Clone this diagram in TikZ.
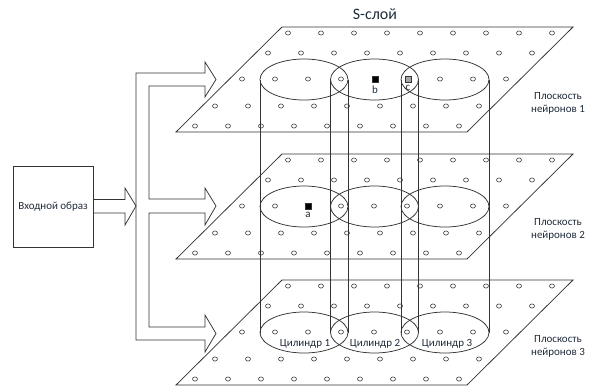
\documentclass[tikz,border=0pt]{standalone}
\usepackage{fontspec}
\setmainfont{Carlito}
\definecolor{ink}{HTML}{333333}
\definecolor{txt}{HTML}{1F2B3A}
\definecolor{cgray}{HTML}{A6A6A6}
\begin{document}
\begin{tikzpicture}[x=1bp,y=-1bp,
  line/.style={draw=ink,line width=0.75bp},
  neuron/.style={draw=ink,line width=0.6bp,fill=white},
  lbl/.style={font=\fontsize{11}{13}\selectfont,text=txt,inner sep=0pt,align=center},
  cell/.style={draw=ink,line width=0.5bp,minimum size=6bp,inner sep=0pt},
  inbox/.style={line,minimum width=80bp,minimum height=81bp,inner sep=0pt,
    font=\fontsize{11}{13}\selectfont,text=txt}]
\useasboundingbox (0,0) rectangle (590,387);

% three neuron planes: parallelograms with a grid of neurons
\foreach \t/\pl in {27/1,154/2,280/3}{
  \draw[line] (282,\t) -- (573,\t) -- (467,\t+105) -- (176,\t+105) -- cycle;
  \foreach \dy [count=\r] in {6,26,52,79,99}{
    \foreach \k in {0,...,8}{
      \pgfmathtruncatemacro{\skip}{
        (\pl==1 && \r==3 && (\k==4 || \k==5)) || (\pl==2 && \r==3 && \k==2)}
      \ifnum\skip=0
        \draw[neuron] (294-\dy+33*\k,\t+\dy) circle[x radius=2.5bp,y radius=2.1bp];
      \fi
    }
  }
  % sections of the three cylinders
  \foreach \cx in {304,374.5,445}{
    \draw[line] (\cx,\t+52.5) ellipse[x radius=44,y radius=20.5];
  }
}

% cylinder walls
\foreach \cx in {304,374.5,445}{
  \draw[line] (\cx-44,79.5) -- (\cx-44,332.5);
  \draw[line] (\cx+44,79.5) -- (\cx+44,332.5);
}

% marked cells
\node[cell,fill=black] (b) at (375,79) {};
\node[lbl,anchor=north] (bl) at ([yshift=-3bp]b.south) {b};
\node[cell,fill=cgray] (c) at (408,79) {};
\node[lbl,anchor=north] (cl) at ([yshift=-3bp]c.south) {c};
\node[cell,fill=black] (a) at (308,206) {};
\node[lbl,anchor=north] (al) at ([yshift=-3bp]a.south) {a};

% titles and labels
\node[font=\fontsize{16}{19}\selectfont,text=txt] (title) at (375,14) {S-слой};
\node[lbl] (p1) at (558,103.5) {Плоскость\\нейронов 1};
\node[lbl] (p2) at (558,229) {Плоскость\\нейронов 2};
\node[lbl] (p3) at (558,346) {Плоскость\\нейронов 3};
\node[lbl] (c1) at (305,344) {Цилиндр 1};
\node[lbl] (c2) at (375,344) {Цилиндр 2};
\node[lbl] (c3) at (447,344) {Цилиндр 3};

% input image block
\node[inbox] (in) at (53,206.5) {Входной образ};

% block arrow from the input to the distribution bus
\draw[line] (in.east |- 0,199.5) -- (125,199.5) -- (125,188) -- (136,206)
  -- (125,225) -- (125,213) -- (in.east |- 0,213);

% distribution bus with three block arrows to the planes
\draw[line] (205,73) -- (205,62) -- (216,79.5) -- (205,97) -- (205,86)
  -- (149,86) -- (149,199) -- (205,199) -- (205,188) -- (216,206)
  -- (205,225) -- (205,213) -- (149,213) -- (149,327) -- (205,327)
  -- (205,315) -- (216,333.5) -- (205,352) -- (205,340) -- (136,340)
  -- (136,73) -- cycle;
\end{tikzpicture}
\end{document}
